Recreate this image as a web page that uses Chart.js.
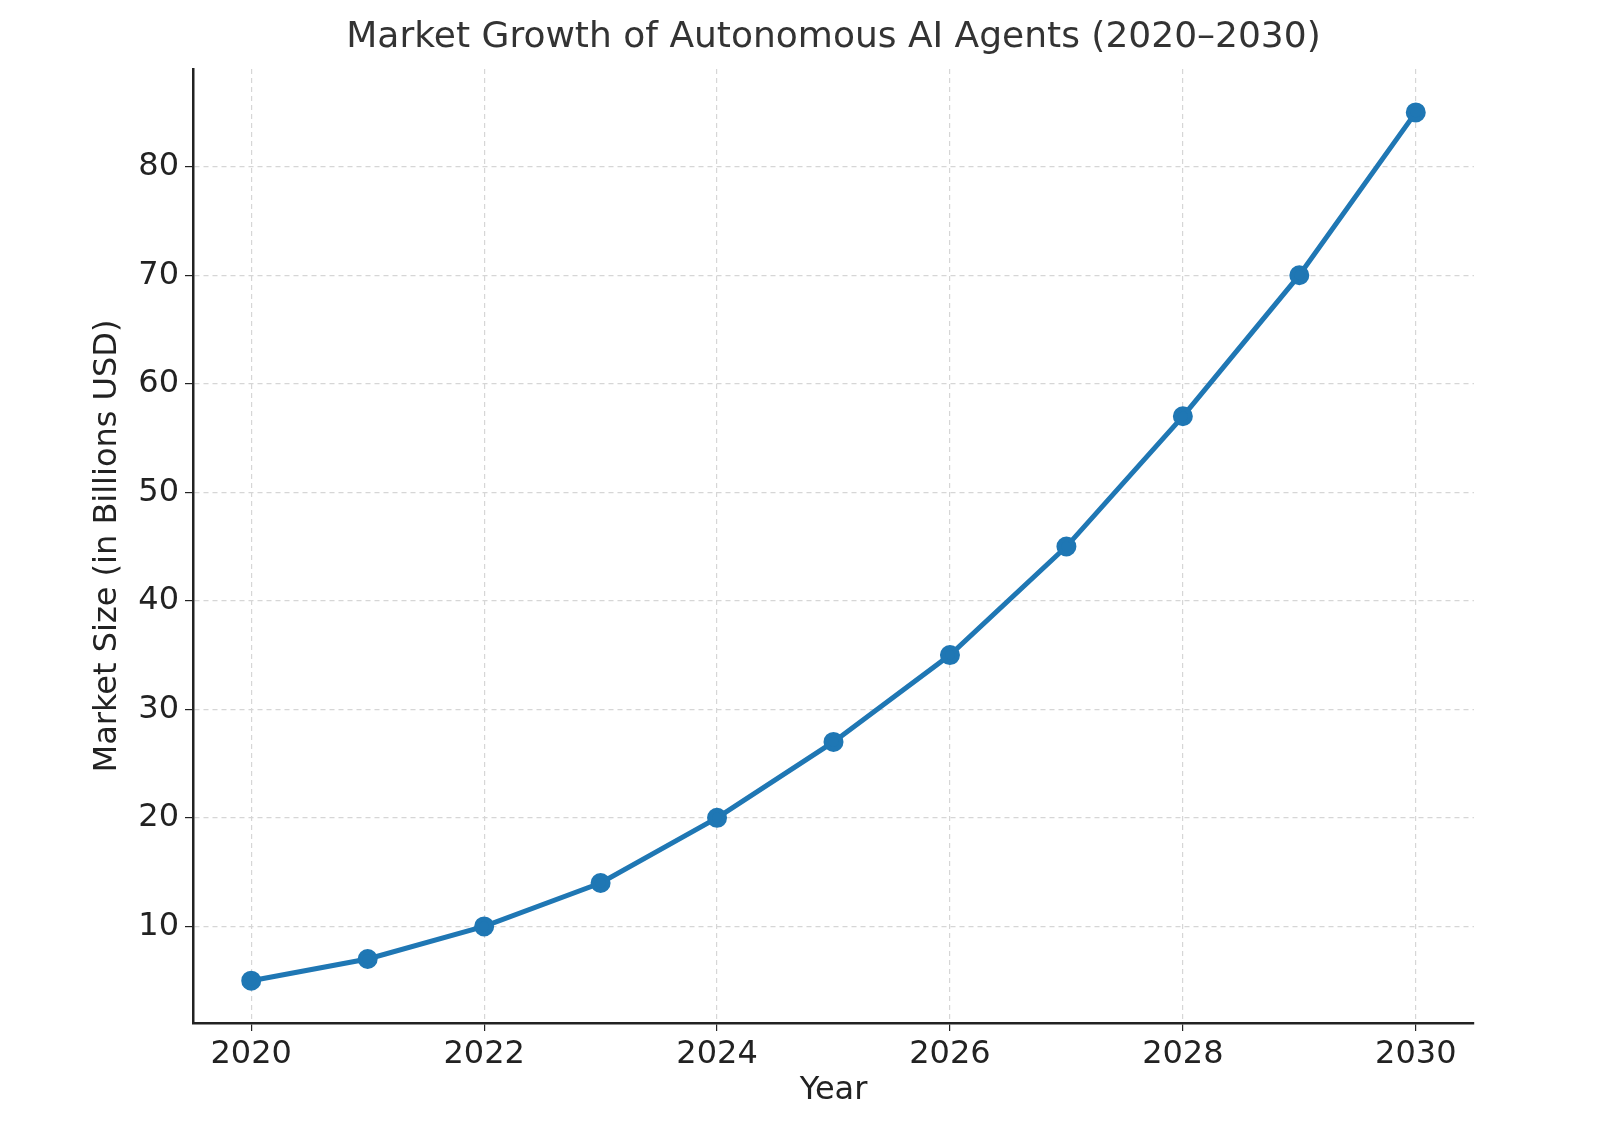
<!DOCTYPE html>
<html><head><meta charset="utf-8">
<script src="https://cdn.jsdelivr.net/npm/chart.js@4"></script>
<style>html,body{margin:0;padding:0;background:#fff}</style>
</head><body>
<canvas id="c" width="1600" height="1128"></canvas>
<script>
const years = [2020,2021,2022,2023,2024,2025,2026,2027,2028,2029,2030];
const marketSize = [5,7,10,14,20,27,35,45,57,70,85];
const xTicks = [2020,2022,2024,2026,2028,2030];
const yTicks = [10,20,30,40,50,60,70,80];
const titleText = 'Market Growth of Autonomous AI Agents (2020–2030)';
const FONT = "'DejaVu Sans', sans-serif";

const titlePlugin = {
  id:'ttl',
  afterDraw(chart){
    const ctx=chart.ctx, a=chart.chartArea;
    ctx.save();
    ctx.font = "36px " + FONT;
    ctx.fillStyle='#333';
    ctx.textAlign='center'; ctx.textBaseline='middle';
    ctx.fillText(titleText,(a.left+a.right)/2,38);
    ctx.restore();
  }
};

new Chart(document.getElementById('c'),{
  type:'line',
  data:{datasets:[{
    data: years.map((y,i)=>({x:y,y:marketSize[i]})),
    borderColor:'#1f77b4', backgroundColor:'#1f77b4',
    borderWidth:5, pointRadius:7.5, pointHoverRadius:7.5, tension:0
  }]},
  options:{
    responsive:false, animation:false,
    layout:{padding:{top:69,right:126,left:88,bottom:18}},
    plugins:{legend:{display:false},tooltip:{enabled:false}},
    scales:{
      x:{type:'linear',min:2019.5,max:2030.5,
        afterBuildTicks(s){s.ticks=xTicks.map(v=>({value:v}));},
        afterFit(s){s.height=87;},
        ticks:{callback:v=>String(v),font:{family:FONT,size:32},color:'#222',padding:4,maxRotation:0},
        grid:{color:'#d6d6d6',lineWidth:1.2,tickLength:8,tickColor:'#222'},
        border:{color:'#222',width:2.5,dash:[5,4]},
        title:{display:true,text:'Year',font:{family:FONT,size:32},color:'#222',padding:{top:0,bottom:0}}
      },
      y:{type:'linear',min:1.1,max:89,
        afterBuildTicks(s){s.ticks=yTicks.map(v=>({value:v}));},
        afterFit(s){s.width=105;},
        ticks:{font:{family:FONT,size:32},color:'#222',padding:6},
        grid:{color:'#d6d6d6',lineWidth:1.2,tickLength:8,tickColor:'#222'},
        border:{color:'#222',width:2.5,dash:[5,4]},
        title:{display:true,text:'Market Size (in Billions USD)',font:{family:FONT,size:32},color:'#222',padding:{top:0,bottom:0}}
      }
    }
  },
  plugins:[titlePlugin]
});
</script>
</body></html>
